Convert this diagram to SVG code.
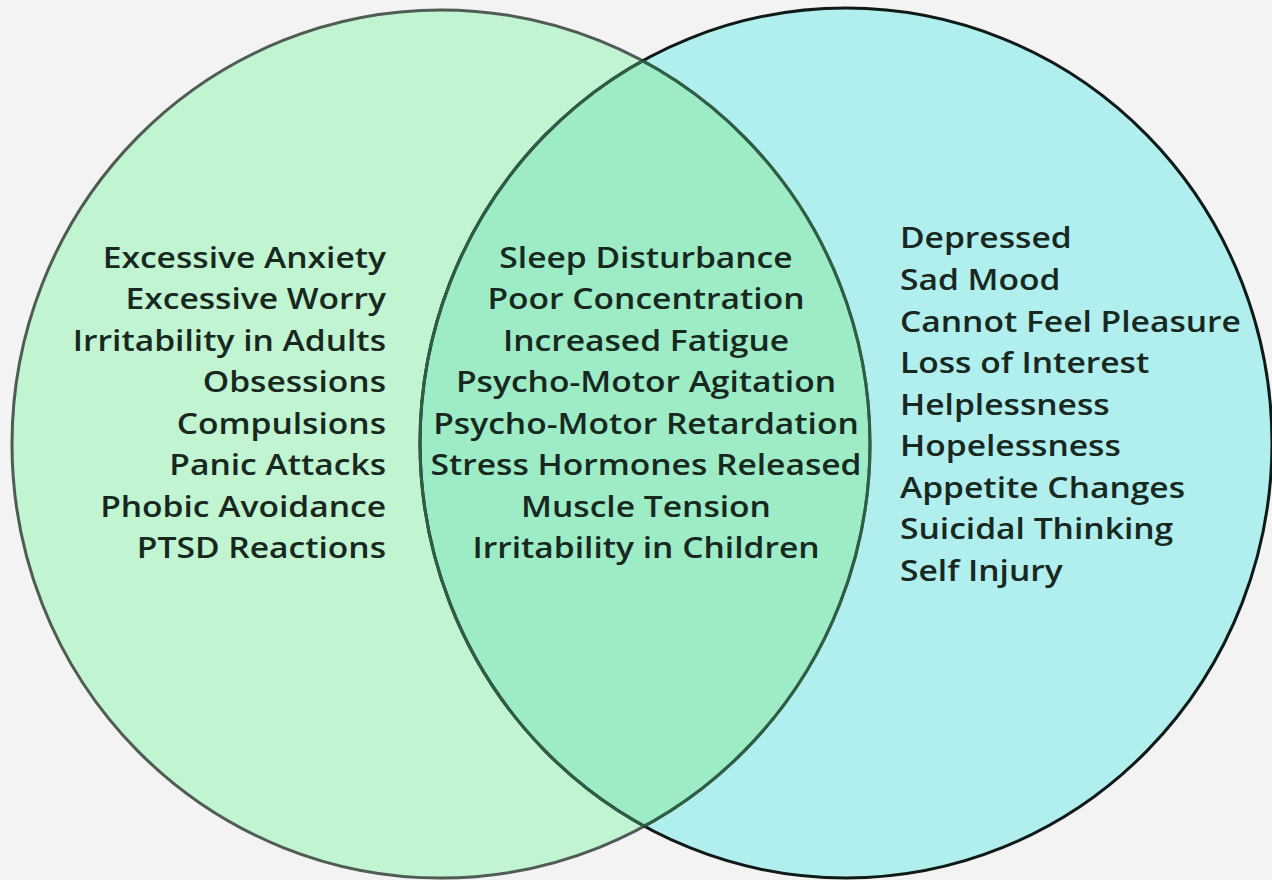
<svg xmlns="http://www.w3.org/2000/svg" width="1272" height="880" viewBox="0 0 1272 880">
<style>
.t{font-family:"Open Sans","Noto Sans","Liberation Sans",sans-serif;font-weight:600;font-size:28px;fill:#17281f}
</style>
<defs>
<clipPath id="clipL"><ellipse cx="441" cy="444" rx="429" ry="434"/></clipPath>
<clipPath id="clipR"><ellipse cx="846" cy="443" rx="426" ry="435"/></clipPath>
</defs>
<rect width="1272" height="880" fill="#f3f3f3"/>
<g id="anxiety">
<ellipse cx="441" cy="444" rx="429" ry="434" fill="#c1f4d1"/>
</g>
<g id="depression">
<ellipse cx="846" cy="443" rx="426" ry="435" fill="#b1eeee"/>
</g>
<g id="overlap">
<ellipse cx="846" cy="443" rx="426" ry="435" fill="#9decc6" clip-path="url(#clipL)"/>
</g>
<g id="outlines" fill="none" stroke-width="3">
<ellipse cx="441" cy="444" rx="429" ry="434" stroke="#4f5c54"/>
<ellipse cx="846" cy="443" rx="426" ry="435" stroke="#0f1a17"/>
<ellipse cx="441" cy="444" rx="429" ry="434" stroke="#2f5e47" clip-path="url(#clipR)"/>
<ellipse cx="846" cy="443" rx="426" ry="435" stroke="#2f5e47" clip-path="url(#clipL)"/>
</g>
<g id="left-text" transform="translate(386,0) scale(1.2,1)" text-anchor="end">
<text class="t" x="0" y="268">Excessive Anxiety</text>
<text class="t" x="0" y="309">Excessive Worry</text>
<text class="t" x="0" y="351">Irritability in Adults</text>
<text class="t" x="0" y="392">Obsessions</text>
<text class="t" x="0" y="434">Compulsions</text>
<text class="t" x="0" y="475">Panic Attacks</text>
<text class="t" x="0" y="517">Phobic Avoidance</text>
<text class="t" x="0" y="558">PTSD Reactions</text>
</g>
<g id="center-text" transform="translate(646,0) scale(1.2,1)" text-anchor="middle">
<text class="t" x="0" y="268">Sleep Disturbance</text>
<text class="t" x="0" y="309">Poor Concentration</text>
<text class="t" x="0" y="351">Increased Fatigue</text>
<text class="t" x="0" y="392">Psycho-Motor Agitation</text>
<text class="t" x="0" y="434">Psycho-Motor Retardation</text>
<text class="t" x="0" y="475">Stress Hormones Released</text>
<text class="t" x="0" y="517">Muscle Tension</text>
<text class="t" x="0" y="558">Irritability in Children</text>
</g>
<g id="right-text" transform="translate(900,0) scale(1.2,1)">
<text class="t" x="0" y="248">Depressed</text>
<text class="t" x="0" y="290">Sad Mood</text>
<text class="t" x="0" y="332">Cannot Feel Pleasure</text>
<text class="t" x="0" y="373">Loss of Interest</text>
<text class="t" x="0" y="415">Helplessness</text>
<text class="t" x="0" y="456">Hopelessness</text>
<text class="t" x="0" y="498">Appetite Changes</text>
<text class="t" x="0" y="539">Suicidal Thinking</text>
<text class="t" x="0" y="581">Self Injury</text>
</g>
</svg>
